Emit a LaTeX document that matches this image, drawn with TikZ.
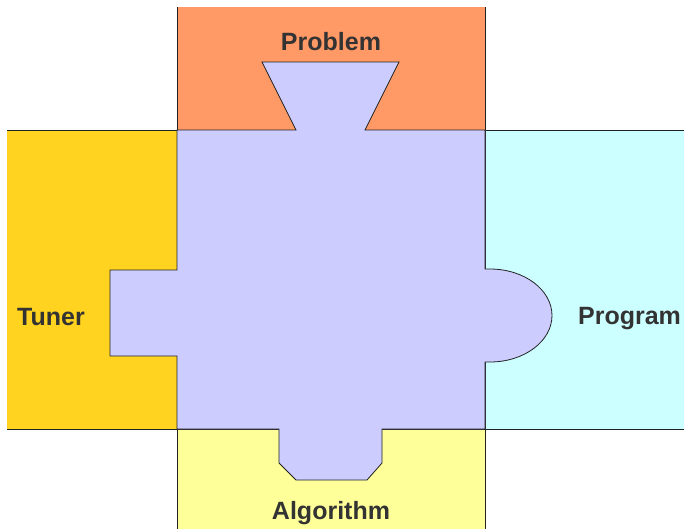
\documentclass[tikz,border=0pt]{standalone}
\usepackage{fontspec}
\setmainfont{Liberation Sans}
\usepackage{tikz}
\definecolor{problemfill}{HTML}{FF9966}
\definecolor{tunerfill}{HTML}{FFD320}
\definecolor{programfill}{HTML}{CCFFFF}
\definecolor{algofill}{HTML}{FFFF99}
\definecolor{corefill}{HTML}{CCCCFF}
\definecolor{edge}{HTML}{222222}
\definecolor{labelink}{HTML}{333333}

\begin{document}
\begin{tikzpicture}[x=1pt,y=-1pt,
    piece/.style={draw=edge,line width=0.8pt,line join=miter},
    tag/.style={font=\bfseries\fontsize{25}{28}\selectfont,color=labelink,anchor=base,inner sep=0pt}]
  \useasboundingbox (0,0) rectangle (684,528);
  \begin{scope}
    \clip (7,7) rectangle (684,528);
    % outer pieces, cut off by the frame
    \draw[piece,fill=problemfill] (177,-10) rectangle (485,130);
    \draw[piece,fill=tunerfill] (-10,130) rectangle (177,429);
    \draw[piece,fill=programfill] (485,130) rectangle (700,429);
    \draw[piece,fill=algofill] (177,429) rectangle (485,540);
  \end{scope}
  % the middle piece with its four tabs
  \draw[piece,fill=corefill] (177,130) -- (296,130) -- (262,62) -- (399,62) -- (365,130)
    -- (485,130) -- (485,269) -- (490,269)
    .. controls (524.2,269) and (552,289.8) .. (552,315.5)
    .. controls (552,341.2) and (524.2,362) .. (490,362)
    -- (485,362) -- (485,429) -- (382,429) -- (382,463) -- (367,480) -- (296,480)
    -- (279,463) -- (279,429) -- (177,429) -- (177,356) -- (110,356) -- (110,270)
    -- (177,270) -- cycle;
  \foreach \nm/\x/\y/\txt in {problem/331/50/Problem,tuner/51/325/Tuner,program/629.5/324/Program,algorithm/331/519/Algorithm} {
    \node[tag] (\nm) at (\x,\y) {\txt};
  }
\end{tikzpicture}
\end{document}
